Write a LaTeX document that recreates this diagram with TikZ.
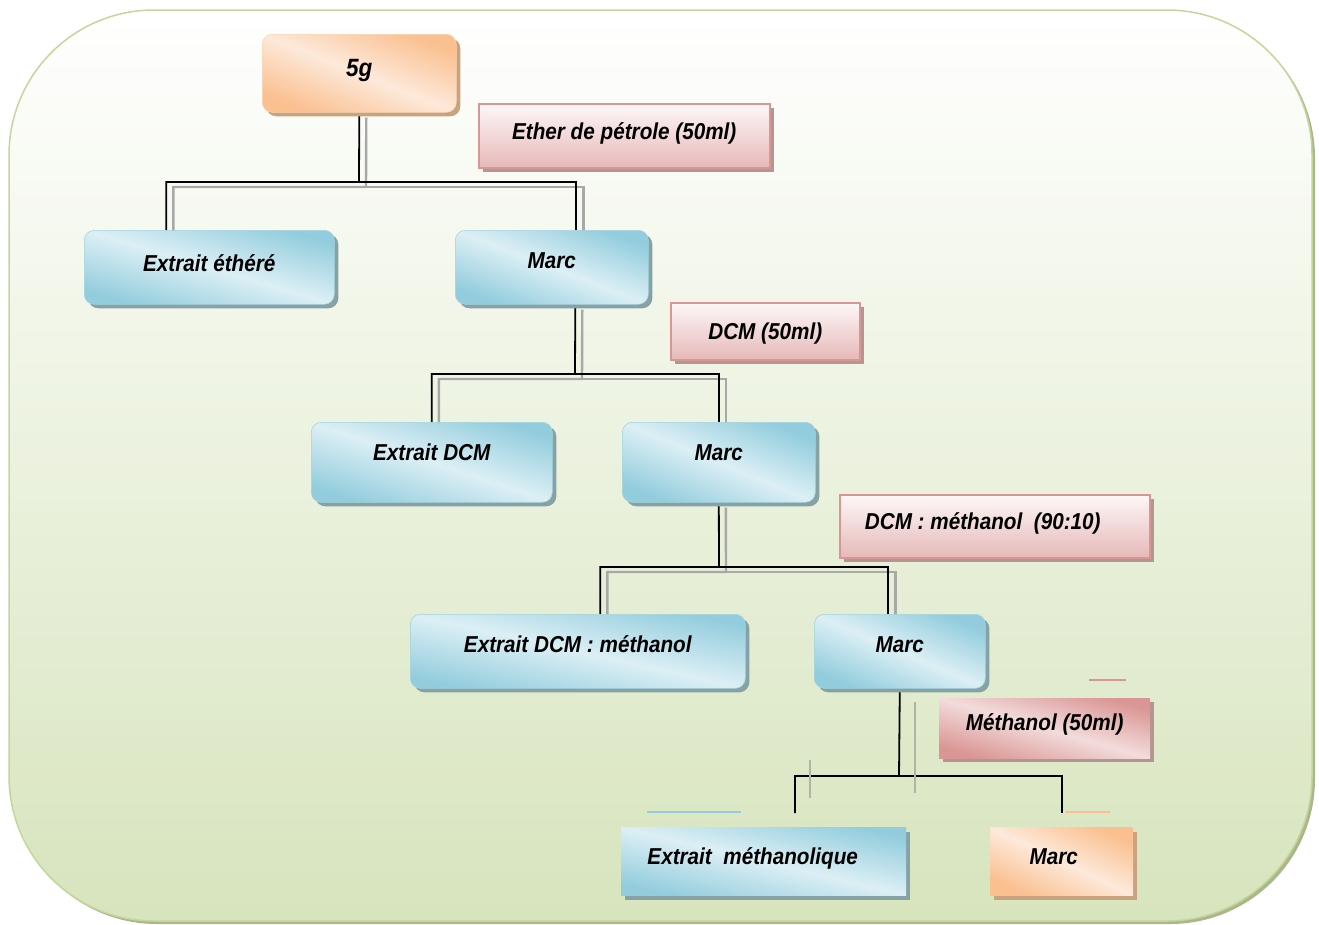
\documentclass[tikz,border=0pt]{standalone}
\usepackage{fontspec}
\setmainfont{Liberation Sans}[FakeStretch=0.9]
\usetikzlibrary{shadows}
\definecolor{bluedark}{HTML}{93CDDD}
\definecolor{bluelight}{HTML}{DCEFF5}
\definecolor{blueborder}{HTML}{A3D3E0}
\definecolor{blueshadow}{HTML}{86A2A5}
\definecolor{orgdark}{HTML}{FAC090}
\definecolor{orglight}{HTML}{FDE9DA}
\definecolor{orgshadow}{HTML}{C9A27F}
\definecolor{pinkdark}{HTML}{E6B9B8}
\definecolor{pinklight}{HTML}{FDF7F7}
\definecolor{pinkmid}{HTML}{DA9694}
\definecolor{pinksoft}{HTML}{F2DCDB}
\definecolor{pinkline}{HTML}{D99694}
\definecolor{pinkshadow}{HTML}{B39592}
\definecolor{bggreen}{HTML}{D7E4BD}
\definecolor{bgline}{HTML}{C3D69B}
\definecolor{bgshadow}{HTML}{A9B78B}
\definecolor{connshadow}{HTML}{A8A8A8}
\definecolor{straygray}{HTML}{B0B4A8}
\pgfdeclarelayer{bg}
\pgfdeclarelayer{conn}
\pgfsetlayers{bg,conn,main}
\newcommand\mvtxt[2]{\makebox[0pt]{\hspace*{#1}#2}}
\tikzset{
  base/.style={inner sep=0pt, anchor=north west, text height=16pt,
    font=\bfseries\itshape\fontsize{23}{26}\selectfont},
  bluebox/.style={base, rounded corners=10pt, draw=blueborder, line width=0.6pt,
    top color=bluedark, bottom color=bluedark, middle color=bluelight, shading angle=#1,
    general shadow={fill=blueshadow, shadow xshift=4pt, shadow yshift=-4pt}},
  bluesq/.style={base, top color=bluedark, bottom color=bluedark, middle color=bluelight, shading angle=#1,
    general shadow={fill=blueshadow, shadow xshift=4pt, shadow yshift=-5pt}},
  orgbox/.style={base, rounded corners=10pt, draw=orgdark!70, line width=0.6pt,
    top color=orgdark, bottom color=orgdark, middle color=orglight, shading angle=#1,
    general shadow={fill=orgshadow, shadow xshift=4pt, shadow yshift=-4pt}},
  orgsq/.style={base, top color=orgdark, bottom color=orgdark, middle color=orglight, shading angle=#1,
    general shadow={fill=orgshadow, shadow xshift=4pt, shadow yshift=-5pt}},
  pinkbox/.style={base, draw=pinkline, line width=1.5pt,
    top color=pinklight, bottom color=pinkdark,
    general shadow={fill=pinkshadow, shadow xshift=4pt, shadow yshift=-4pt}},
  pinkdiag/.style={base, top color=pinkmid, bottom color=pinkmid, middle color=pinksoft, shading angle=#1,
    general shadow={fill=pinkshadow, shadow xshift=4pt, shadow yshift=-4pt}},
  conn/.style={draw=black, line width=1.8pt},
  connsh/.style={draw=connshadow, line width=2.4pt, transform canvas={xshift=7pt,yshift=-5pt}},
  stray/.style={draw=straygray, line width=2pt},
}
\begin{document}
\begin{tikzpicture}[x=1pt,y=-1pt]
\useasboundingbox (0,0) rectangle (1319,924);

% boxes
\node[orgbox=-22, minimum width=194pt, minimum height=78pt, text depth=10pt,
  font=\bfseries\itshape\fontsize{25}{28}\selectfont] (g5) at (262,34) {5g};
\node[pinkbox, minimum width=291pt, minimum height=64pt, text depth=8pt] (ether) at (478,103) {Ether de pétrole (50ml)};
\node[bluebox=-16.5, minimum width=250pt, minimum height=74pt, text depth=8pt] (ext1) at (84,230) {Extrait éthéré};
\node[bluebox=-21, minimum width=193pt, minimum height=74pt, text depth=14pt] (marc1) at (455,230) {Marc};
\node[pinkbox, minimum width=189pt, minimum height=57pt, text depth=0pt] (dcm) at (670,302) {DCM (50ml)};
\node[bluebox=-18, minimum width=241pt, minimum height=80pt, text depth=20pt] (ext2) at (311,422) {Extrait DCM};
\node[bluebox=-22.5, minimum width=193pt, minimum height=80pt, text depth=20pt] (marc2) at (622,422) {Marc};
\node[pinkbox, minimum width=310pt, minimum height=63pt, text depth=10pt] (dcmm) at (839,494) {\mvtxt{-24pt}{DCM : méthanol\ \ (90:10)}};
\node[bluebox=-12.5, minimum width=335pt, minimum height=74pt, text depth=14pt] (ext3) at (410,614) {Extrait DCM : méthanol};
\node[bluebox=-23, minimum width=171pt, minimum height=74pt, text depth=14pt] (marc3) at (814,614) {Marc};
\node[pinkdiag=-16, minimum width=211pt, minimum height=60pt, text depth=12pt] (meth) at (939,698) {Méthanol (50ml)};
\node[bluesq=-13.4, minimum width=285pt, minimum height=68pt, text depth=10pt] (ext4) at (621,827) {\mvtxt{-22pt}{Extrait\ \ méthanolique}};
\node[orgsq=-25, minimum width=143pt, minimum height=68pt, text depth=10pt] (marc4) at (990,827) {\mvtxt{-16pt}{Marc}};

% background
\begin{pgfonlayer}{bg}
\fill[bgshadow, rounded corners=145pt] (12,13) rectangle (1315,924);
\shade[top color=white, bottom color=bggreen, draw=bgline, line width=1.5pt, rounded corners=145pt]
  (9,10) rectangle (1312,921);
\end{pgfonlayer}

% connectors
\begin{pgfonlayer}{conn}
\coordinate (j1) at (359,182);
\coordinate (j2) at (575,374);
\coordinate (j3) at (719,567);
\coordinate (j4) at (899,776);
\coordinate (e4a) at (795,813);
\coordinate (e4b) at (1062,813);
\draw[connsh] (g5.south) -- (j1) -| ([xshift=-43pt]ext1.north);
\draw[connsh] (j1) -| ([xshift=24.5pt]marc1.north);
\draw[connsh] ([xshift=23.5pt]marc1.south) -- (j2) -| (ext2.north);
\draw[connsh] (j2) -| (marc2.north);
\draw[connsh] (marc2.south) -- (j3) -| ([xshift=22.5pt]ext3.north);
\draw[connsh] (j3) -| ([xshift=-11.5pt]marc3.north);
\draw[conn] (g5.south) -- (j1) -| ([xshift=-43pt]ext1.north);
\draw[conn] (j1) -| ([xshift=24.5pt]marc1.north);
\draw[conn] ([xshift=23.5pt]marc1.south) -- (j2) -| (ext2.north);
\draw[conn] (j2) -| (marc2.north);
\draw[conn] (marc2.south) -- (j3) -| ([xshift=22.5pt]ext3.north);
\draw[conn] (j3) -| ([xshift=-11.5pt]marc3.north);
\draw[conn] (marc3.south) -- (j4) -| (e4a);
\draw[conn] (j4) -| (e4b);
\draw[stray] (810,760) -- (810,798);
\draw[stray] (915,702) -- (915,793);
\draw[pinkline, line width=2pt] (1089,680) -- (1126,680);
\draw[bluedark, line width=2pt] (647,812) -- (741,812);
\draw[orgdark, line width=2pt] (1066,812) -- (1110,812);
\end{pgfonlayer}
\end{tikzpicture}
\end{document}
